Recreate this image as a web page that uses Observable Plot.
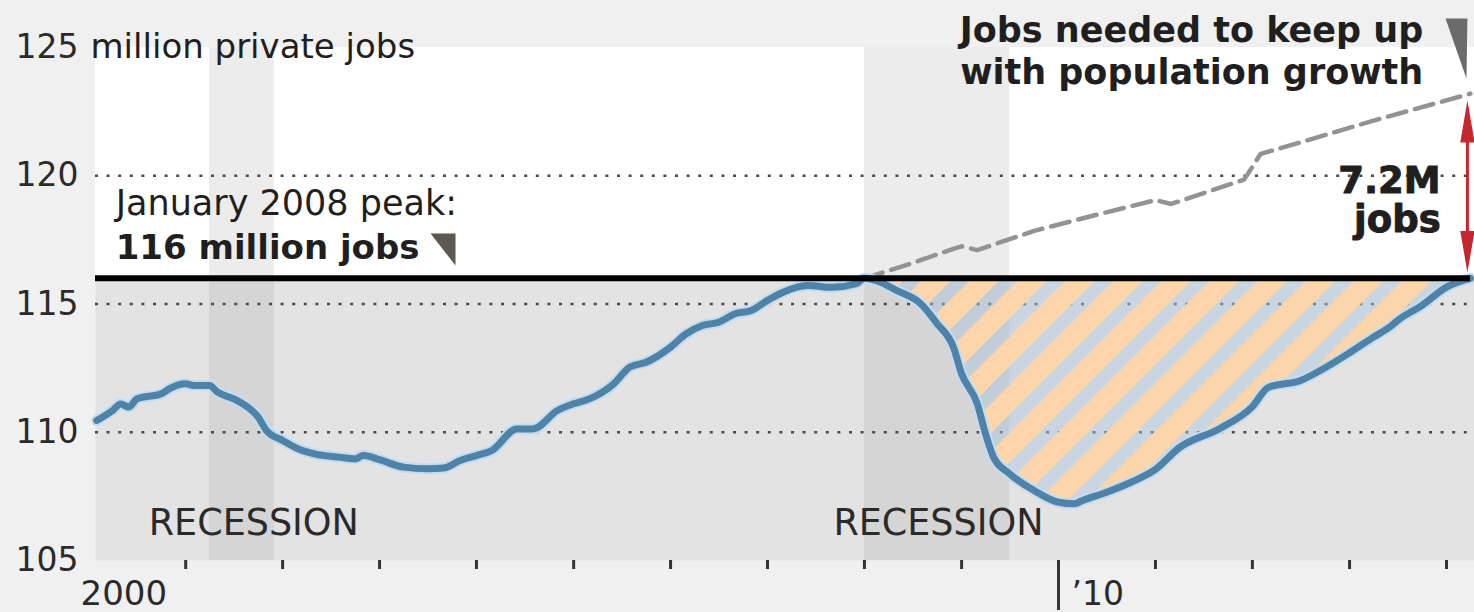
<!DOCTYPE html>
<html><head><meta charset="utf-8">
<script src="https://cdn.jsdelivr.net/npm/d3@7"></script>
<script src="https://cdn.jsdelivr.net/npm/@observablehq/plot@0.6"></script>
<style>
html,body{margin:0;padding:0;background:#f0f0f0;}
#chart svg{display:block;}
</style></head><body><div id="chart"></div>
<script>
// ---- data ----
const months = ["2000-02","2000-04","2000-05","2000-06","2000-07","2000-10","2000-11","2001-01","2001-02","2001-04","2001-05","2001-07","2001-09","2001-10","2001-11","2002-01","2002-03","2002-05","2002-08","2002-10","2002-11","2003-01","2003-04","2003-07","2003-09","2003-11","2004-01","2004-03","2004-06","2004-08","2004-11","2005-01","2005-03","2005-06","2005-08","2005-10","2006-01","2006-03","2006-05","2006-07","2006-09","2006-11","2007-01","2007-03","2007-06","2007-09","2007-12","2008-01","2008-03","2008-05","2008-08","2008-10","2008-12","2009-01","2009-03","2009-04","2009-05","2009-07","2009-10","2010-01","2010-03","2010-04","2010-07","2010-10","2011-01","2011-04","2011-09","2012-01","2012-03","2012-07","2012-09","2013-01","2013-04","2013-06","2013-07","2013-10","2014-01","2014-04"];
const privateJobs = [110.46,110.85,111.1,110.98,111.3,111.5,111.7,111.89,111.82,111.82,111.56,111.3,110.9,110.59,110.07,109.68,109.35,109.16,109.03,108.96,109.09,108.93,108.64,108.58,108.61,108.9,109.09,109.3,110.13,110.13,110.85,111.11,111.3,111.89,112.54,112.73,113.32,113.84,114.16,114.29,114.62,114.75,115.14,115.46,115.72,115.65,115.79,116.0,115.85,115.53,115.0,114.23,113.32,112.28,111.11,109.94,109.03,108.38,107.73,107.27,107.21,107.34,107.66,108.05,108.55,109.4,110.15,111.0,111.75,112.02,112.34,113.1,113.71,114.1,114.36,114.95,115.66,116.0];
const popMonths = ["2008-01","2008-07","2008-12","2009-01","2009-03","2009-10","2010-06","2011-01","2011-03","2011-12","2012-02","2012-08","2013-04","2014-04"];
const popJobs = [116.0,116.6,117.15,117.25,117.1,117.85,118.5,119.05,118.9,119.85,120.85,121.4,122.15,123.2];
const recessionStart = ["2001-04-01","2008-01-01"];
const recessionEnd = ["2001-12-01","2009-07-01"];
const yTicks = [105,110,115,120,125];
const gridValues = [110,115,120];
const peakValue = 116;
const peakMonth = "2008-01";
const yearTicks = ["2001","2002","2003","2004","2005","2006","2007","2008","2009","2010","2011","2012","2013","2014"];

// ---- helpers ----
const parse = s => new Date(s.length === 4 ? s + "-01-01" : s.length === 7 ? s + "-01" : s);
function dec(t){ const y = Math.floor(t); const s = Date.UTC(y,0,1), e = Date.UTC(y+1,0,1); return new Date(s + (t - y) * (e - s)); }
const xDomain = [dec(2000.072), dec(2014.289)];

const jobsData = months.map((m,i) => ({date: parse(m), value: privateJobs[i]}));
const gapData = jobsData.filter(d => d.date >= parse(peakMonth));
const popData = popMonths.map((m,i) => ({date: parse(m), value: popJobs[i]}));
const recessions = recessionStart.map((s,i) => ({start: parse(s), end: parse(recessionEnd[i])}));
const lastDate = jobsData[jobsData.length-1].date;

const F = "DejaVu Sans";
const ink = "#1f1f1f";

const tri116 = [{x: dec(2003.526), y: 117.75},{x: dec(2003.784), y: 117.75},{x: dec(2003.784), y: 116.5}];
const triTop = [{x: dec(2013.99), y: 126.13},{x: dec(2014.216), y: 126.13},{x: dec(2014.206), y: 123.79}];
const headTop = [{x: dec(2014.216), y: 122.93},{x: dec(2014.142), y: 121.3},{x: dec(2014.29), y: 121.3}];
const headBot = [{x: dec(2014.216), y: 116.23},{x: dec(2014.142), y: 117.85},{x: dec(2014.29), y: 117.85}];

const txt = (arr, opts) => Plot.text(arr, {x: "x", y: "y", text: "t", fontFamily: F, fill: ink, ...opts});

const chart = Plot.plot({
  width: 1474, height: 612,
  marginLeft: 95, marginRight: 0, marginTop: 47, marginBottom: 52,
  style: {fontFamily: F, background: "#f0f0f0", overflow: "visible"},
  x: {type: "utc", domain: xDomain},
  y: {domain: [105, 125]},
  marks: [
    Plot.frame({fill: "#e3e3e3", stroke: null}),
    Plot.rect([{x1: xDomain[0], x2: xDomain[1], y1: peakValue, y2: 125}], {x1: "x1", x2: "x2", y1: "y1", y2: "y2", fill: "#ffffff"}),
    Plot.rect(recessions, {x1: "start", x2: "end", y1: () => 105, y2: () => peakValue, fill: "#d5d5d5"}),
    Plot.rect(recessions, {x1: "start", x2: "end", y1: () => peakValue, y2: () => 125, fill: "#ececec"}),
    Plot.ruleY(gridValues, {stroke: "#4a4a4a", strokeWidth: 2.5, strokeDasharray: "3,8.6"}),
    Plot.areaY(gapData, {x: "date", y1: "value", y2: () => peakValue, fill: "url(#hatch)", curve: "monotone-x"}),
    Plot.line(popData, {x: "date", y: "value", stroke: "#939393", strokeWidth: 4.5, strokeDasharray: "19,9"}),
    Plot.line(jobsData, {x: "date", y: "value", stroke: "#c4dcef", strokeWidth: 11, curve: "monotone-x", strokeLinejoin: "round"}),
    Plot.line(jobsData, {x: "date", y: "value", stroke: "#4e82a7", strokeWidth: 7, curve: "monotone-x", strokeLinejoin: "round"}),
    Plot.ruleY([peakValue], {x1: xDomain[0], x2: lastDate, stroke: "#000", strokeWidth: 6}),
    // annotations
    Plot.line(tri116, {x: "x", y: "y", fill: "#5d5852", stroke: "none"}),
    Plot.line(triTop, {x: "x", y: "y", fill: "#6b6b6b", stroke: "none"}),
    Plot.ruleX([{x: dec(2014.216), y1: 116.6, y2: 122.5}], {x: "x", y1: "y1", y2: "y2", stroke: "#c6262e", strokeWidth: 3}),
    Plot.line(headTop, {x: "x", y: "y", fill: "#c6262e", stroke: "none"}),
    Plot.line(headBot, {x: "x", y: "y", fill: "#c6262e", stroke: "none"}),
    txt([{x: xDomain[0], y: 125, t: "million private jobs"}], {textAnchor: "start", dx: -5, fontSize: 34}),
    txt([{x: dec(2000.28), y: 118.92, t: "January 2008 peak:"}], {textAnchor: "start", fontSize: 35}),
    txt([{x: dec(2000.28), y: 117.16, t: "116 million jobs"}], {textAnchor: "start", fontSize: 34, fontWeight: "bold"}),
    txt([{x: dec(2013.76), y: 125.66, t: "Jobs needed to keep up"}], {textAnchor: "end", fontSize: 35, fontWeight: "bold"}),
    txt([{x: dec(2013.76), y: 124.0, t: "with population growth"}], {textAnchor: "end", fontSize: 35, fontWeight: "bold"}),
    txt([{x: dec(2013.94), y: 119.78, t: "7.2M"}], {textAnchor: "end", fontSize: 37, fontWeight: "bold", stroke: ink, strokeWidth: 1}),
    txt([{x: dec(2013.94), y: 118.25, t: "jobs"}], {textAnchor: "end", fontSize: 37, fontWeight: "bold", stroke: ink, strokeWidth: 1}),
    txt([{x: dec(2000.62), y: 106.44, t: "RECESSION"}, {x: dec(2007.68), y: 106.44, t: "RECESSION"}], {textAnchor: "start", fontSize: 36.5, fill: "#2a2a2a"}),
    // axes
    Plot.axisY({ticks: yTicks, tickSize: 0, tickPadding: 17, fontSize: 33, label: null, fill: "#2a2a2a"}),
    Plot.axisX({ticks: yearTicks.map(parse), tickSize: 9, tickFormat: () => "", strokeWidth: 3, stroke: "#333", label: null}),
    Plot.axisX({ticks: [parse("2010")], tickSize: 50, tickFormat: () => "", strokeWidth: 3, stroke: "#333", label: null}),
    Plot.text([{x: parse("2000"), t: "2000"}], {x: "x", text: "t", frameAnchor: "bottom", lineAnchor: "middle", dy: 34, dx: -8, textAnchor: "start", fontFamily: F, fontSize: 34, fill: "#2a2a2a"}),
    Plot.text([{x: parse("2010"), t: "\u201910"}], {x: "x", text: "t", frameAnchor: "bottom", lineAnchor: "middle", dy: 34, dx: 13, textAnchor: "start", fontFamily: F, fontSize: 33, fill: "#2a2a2a"})
  ]
});

// hatch pattern for the gap area
const defs = d3.select(chart).insert("defs", ":first-child");
const pat = defs.append("pattern").attr("id", "hatch").attr("patternUnits", "userSpaceOnUse")
  .attr("width", 34).attr("height", 34).attr("patternTransform", "rotate(45)");
pat.append("rect").attr("width", 34).attr("height", 34).attr("fill", "#a9c5e1").attr("fill-opacity", 0.45);
pat.append("rect").attr("width", 21).attr("height", 34).attr("fill", "#fcd6aa");

document.getElementById("chart").appendChild(chart);
</script></body></html>
